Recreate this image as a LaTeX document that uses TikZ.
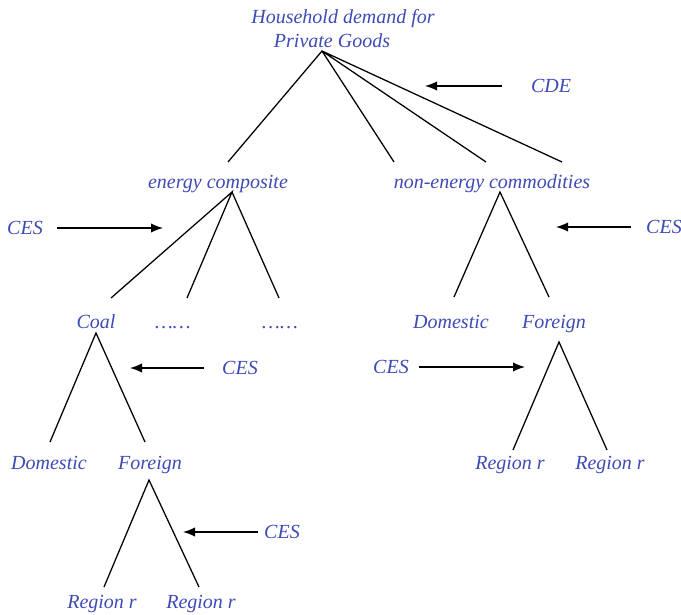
\documentclass[tikz,border=0pt]{standalone}
\usepackage{fontspec}
\setmainfont{Liberation Serif}
\usetikzlibrary{arrows.meta}
\definecolor{lblue}{RGB}{62,74,182}
\begin{document}
\begin{tikzpicture}[x=0.75pt,y=-0.75pt,
  lab/.style={font=\fontsize{15}{18}\selectfont\itshape, text=lblue, inner sep=0pt, text height=0.95em, text depth=0pt, anchor=center},
  br/.style={line width=0.95pt, black},
  arr/.style={line width=0.95pt, black, -{Latex[length=9pt,width=7pt]}}]
\useasboundingbox (0,0) rectangle (681,614);
% labels
\node[lab] (hh1) at (343,17) {Household demand for};
\node[lab] (hh2) at (332,41) {Private Goods};
\node[lab] (cde) at (551,86) {CDE};
\node[lab] (ec) at (218,182) {energy composite};
\node[lab] (nec) at (492,182) {non-energy commodities};
\node[lab] (ces1) at (25,228) {CES};
\node[lab] (ces2) at (664,227) {CES};
\node[lab] (coal) at (96,322) {Coal};
\node[lab] (d1) at (173,322) {\ldots\ldots};
\node[lab] (d2) at (280,322) {\ldots\ldots};
\node[lab] (dom2) at (451,322) {Domestic};
\node[lab] (for2) at (554,322) {Foreign};
\node[lab] (ces3) at (240,368) {CES};
\node[lab] (ces4) at (391,367) {CES};
\node[lab] (dom1) at (49,463) {Domestic};
\node[lab] (for1) at (150,463) {Foreign};
\node[lab] (r3) at (510,463) {Region r};
\node[lab] (r4) at (610,463) {Region r};
\node[lab] (ces5) at (282,532) {CES};
\node[lab] (r1) at (102,602) {Region r};
\node[lab] (r2) at (201,602) {Region r};
% branch points
\coordinate (a0) at (322,51);
\coordinate (a0e1) at (228,162);
\coordinate (a0e2) at (394,162);
\coordinate (a0e3) at (486,162);
\coordinate (a0e4) at (562,162);
\coordinate (a1) at (232,192);
\coordinate (a1e1) at (111,298);
\coordinate (a1e2) at (187,298);
\coordinate (a1e3) at (279,298);
\coordinate (a2) at (500,192);
\coordinate (a2e1) at (454,297);
\coordinate (a2e2) at (549,297);
\coordinate (a3) at (96,333);
\coordinate (a3e1) at (50,442);
\coordinate (a3e2) at (145,442);
\coordinate (a4) at (559,342);
\coordinate (a4e1) at (513,450);
\coordinate (a4e2) at (607,450);
\coordinate (a5) at (149,480);
\coordinate (a5e1) at (104,587);
\coordinate (a5e2) at (199,587);
% arrow ends
\coordinate (t0) at (425,86);
\coordinate (t1) at (163,228);
\coordinate (t2) at (556,227);
\coordinate (t3) at (130,368);
\coordinate (t4) at (525,367);
\coordinate (t5) at (183,532);
% branches
\draw[br] (a0e1) -- (a0) -- (a0e2) (a0) -- (a0e3) (a0) -- (a0e4);
\draw[br] (a1e1) -- (a1) -- (a1e2) (a1) -- (a1e3);
\draw[br] (a2e1) -- (a2) -- (a2e2);
\draw[br] (a3e1) -- (a3) -- (a3e2);
\draw[br] (a4e1) -- (a4) -- (a4e2);
\draw[br] (a5e1) -- (a5) -- (a5e2);
% arrows
\draw[arr] (cde.west) ++(-29,0) -- (t0);
\draw[arr] (ces1.east) ++(14,0) -- (t1);
\draw[arr] (ces2.west) ++(-15,0) -- (t2);
\draw[arr] (ces3.west) ++(-18,0) -- (t3);
\draw[arr] (ces4.east) ++(10,0) -- (t4);
\draw[arr] (ces5.west) ++(-6,0) -- (t5);
\end{tikzpicture}
\end{document}
